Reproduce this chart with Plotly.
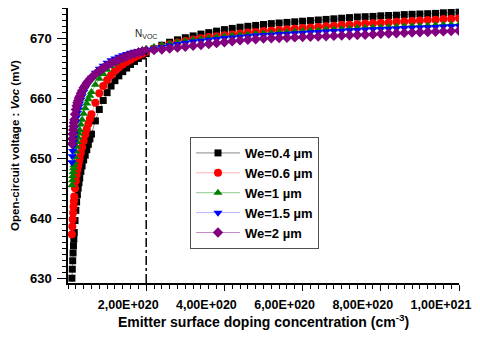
import plotly.graph_objects as go

# emitter surface doping, in units of 1E19 cm-3
doping_e19 = [1.0, 1.1, 1.2, 1.3, 1.4, 1.5, 1.6, 1.8, 2.0, 2.2, 2.4, 2.6, 2.8, 3.0, 3.3, 3.6,
              4.0, 4.4, 4.8, 5.2, 5.6, 6.0,
              7, 8, 9, 10, 11, 12, 13, 14, 15, 16, 17, 18, 19, 20,
              22, 24, 26, 28, 30, 32, 34, 36, 38, 40, 42, 44, 46, 48, 50, 52, 54, 56, 58, 60,
              62, 64, 66, 68, 70, 72, 74, 76, 78, 80, 82, 84, 86, 88, 90, 92, 94, 96, 98, 100]

voc_we_04 = [630.0, 631.5, 632.9, 634.2, 635.4, 636.5, 637.6, 639.6, 641.3, 642.7, 643.9, 645.0,
             645.9, 646.7, 647.8, 648.7, 649.7, 650.5, 651.4, 652.3, 653.2, 654.0,
             656.2, 658.1, 659.6, 660.9, 662.0, 662.9, 663.7, 664.4, 665.0, 665.6, 666.1, 666.6,
             667.0, 667.4,
             668.2, 668.8, 669.3, 669.7, 670.05, 670.35, 670.65, 670.9, 671.15, 671.4, 671.6,
             671.8, 671.95, 672.1, 672.25, 672.4, 672.5, 672.6, 672.7, 672.8, 672.9, 673.0,
             673.1, 673.2, 673.3, 673.4, 673.5, 673.55, 673.6, 673.7, 673.75, 673.8, 673.9,
             673.95, 674.0, 674.05, 674.1, 674.2, 674.25, 674.3]

voc_we_06 = [637.3, 638.6, 639.8, 640.9, 641.9, 642.8, 643.6, 645.0, 646.2, 647.2, 648.0, 648.7,
             649.4, 650.0, 650.9, 651.8, 652.9, 653.9, 654.8, 655.7, 656.5, 657.3,
             659.2, 660.8, 662.0, 663.0, 663.8, 664.5, 665.1, 665.6, 666.0, 666.4, 666.8, 667.1,
             667.4, 667.7,
             668.2, 668.6, 668.95, 669.25, 669.5, 669.75, 669.95, 670.15, 670.3, 670.45, 670.6,
             670.75, 670.9, 671.0, 671.15, 671.25, 671.35, 671.45, 671.55, 671.65, 671.75,
             671.85, 671.95, 672.05, 672.15, 672.2, 672.3, 672.4, 672.45, 672.55, 672.6, 672.7,
             672.75, 672.85, 672.9, 673.0, 673.05, 673.15, 673.2, 673.3]

voc_we_1 = [645.5, 646.3, 647.0, 647.7, 648.3, 648.8, 649.3, 650.2, 651.1, 651.9, 652.7, 653.4,
            654.1, 654.7, 655.6, 656.4, 657.4, 658.3, 659.1, 659.8, 660.4, 661.0,
            662.2, 663.2, 664.0, 664.7, 665.3, 665.8, 666.2, 666.6, 666.9, 667.2, 667.5, 667.8,
            668.0, 668.2,
            668.5, 668.8, 669.05, 669.3, 669.5, 669.7, 669.85, 670.0, 670.15, 670.3, 670.4,
            670.5, 670.6, 670.7, 670.8, 670.85, 670.95, 671.0, 671.1, 671.15, 671.25, 671.3,
            671.4, 671.45, 671.5, 671.6, 671.65, 671.7, 671.75, 671.8, 671.85, 671.9, 671.95,
            672.0, 672.05, 672.1, 672.15, 672.2, 672.25, 672.3]

voc_we_15 = [649.3, 650.3, 651.2, 652.0, 652.7, 653.4, 654.0, 655.1, 656.0, 656.8, 657.5, 658.1,
             658.6, 659.1, 659.7, 660.3, 661.0, 661.6, 662.1, 662.6, 663.0, 663.4,
             664.2, 664.9, 665.4, 665.9, 666.3, 666.6, 666.9, 667.15, 667.35, 667.55, 667.7,
             667.85, 667.95, 668.05,
             668.2, 668.5, 668.75, 669.0, 669.2, 669.4, 669.55, 669.7, 669.85, 670.0, 670.1,
             670.2, 670.3, 670.4, 670.5, 670.55, 670.65, 670.7, 670.8, 670.85, 670.95, 671.0,
             671.1, 671.15, 671.2, 671.3, 671.35, 671.4, 671.45, 671.5, 671.55, 671.6, 671.65,
             671.7, 671.75, 671.8, 671.85, 671.9, 671.95, 672.0]

voc_we_2 = [652.4, 653.2, 654.0, 654.7, 655.3, 655.9, 656.4, 657.3, 658.1, 658.7, 659.2, 659.6,
            660.0, 660.3, 660.8, 661.2, 661.7, 662.1, 662.5, 662.8, 663.1, 663.4,
            664.0, 664.5, 665.0, 665.4, 665.8, 666.1, 666.4, 666.7, 666.95, 667.2, 667.4,
            667.6, 667.75, 667.9,
            668.0, 668.1, 668.25, 668.4, 668.55, 668.7, 668.85, 669.0, 669.15, 669.3, 669.45,
            669.6, 669.7, 669.8, 669.9, 669.95, 670.0, 670.05, 670.1, 670.15, 670.2, 670.25,
            670.3, 670.35, 670.4, 670.45, 670.5, 670.55, 670.6, 670.7, 670.75, 670.8, 670.85,
            670.9, 670.95, 671.0, 671.05, 671.1, 671.15, 671.2]

x_tick_vals = [2e20, 4e20, 6e20, 8e20, 1e21]
x_tick_text = ['2,00E+020', '4,00E+020', '6,00E+020', '8,00E+020', '1,00E+021']

n_voc = 2e20
voc_at_n_voc = 667.5
y_range = [629.2, 675.0]

font_family = 'Arial, Liberation Sans, sans-serif'

x = [v * 1e19 for v in doping_e19]

series = [
    ('We=0.4 µm', voc_we_04, 'square', '#000000', '#8a8a8a', 7),
    ('We=0.6 µm', voc_we_06, 'circle', '#ff0000', '#ffb4b4', 8),
    ('We=1 µm', voc_we_1, 'triangle-up', '#008000', '#8cc88c', 8),
    ('We=1.5 µm', voc_we_15, 'triangle-down', '#0000ff', '#b4b4ff', 8),
    ('We=2 µm', voc_we_2, 'diamond', '#800080', '#c88cc8', 8),
]

fig = go.Figure()

for name, y, symbol, color, line_color, size in series:
    fig.add_trace(go.Scatter(
        x=x, y=y,
        name=name,
        mode='lines+markers',
        line=dict(color=line_color, width=1),
        marker=dict(symbol=symbol, color=color, size=size, line=dict(width=0))
    ))

fig.add_shape(
    type='line', xref='x', yref='y',
    x0=n_voc, x1=n_voc, y0=y_range[0], y1=voc_at_n_voc,
    line=dict(color='black', width=1.5, dash='dashdot')
)

fig.add_annotation(
    x=n_voc, y=670.6, xref='x', yref='y',
    text='N<sub>VOC</sub>', showarrow=False,
    font=dict(family=font_family, size=10, color='#222222')
)

# the page body has an 8px margin, so the figure is a bit smaller than the window
fig.update_layout(
    width=472, height=331,
    margin=dict(l=60, r=21, t=0, b=56, autoexpand=False),
    paper_bgcolor='white', plot_bgcolor='white',
    font=dict(family=font_family, color='black'),
    showlegend=True,
    legend=dict(
        x=0.312, y=0.531, xanchor='left', yanchor='top',
        bordercolor='#505050', borderwidth=1, bgcolor='white',
        itemwidth=44,
        font=dict(family=font_family, size=13, weight='bold')
    )
)

fig.update_xaxes(
    range=[0, 1e21], automargin=False,
    tickvals=x_tick_vals, ticktext=x_tick_text,
    ticks='outside', ticklen=6, tickwidth=1.2, tickcolor='black',
    ticklabelstandoff=3, ticklabelshift=-18, ticklabeloverflow='allow',
    minor=dict(dtick=2e19, tick0=0, ticks='outside', ticklen=4, tickcolor='black'),
    showline=True, linecolor='black', linewidth=1.5,
    showgrid=False, zeroline=False,
    tickfont=dict(family=font_family, size=12.5, weight='bold'),
    title=dict(text='Emitter surface doping concentration (cm<sup>-3</sup>)',
               font=dict(family=font_family, size=14, weight='bold'), standoff=0)
)

fig.update_yaxes(
    range=y_range, automargin=False,
    tick0=630, dtick=10,
    ticks='outside', ticklen=9, tickwidth=1.2, tickcolor='black',
    ticklabelstandoff=3,
    minor=dict(dtick=1, tick0=630, ticks='outside', ticklen=4, tickcolor='black'),
    showline=True, linecolor='black', linewidth=1.5,
    showgrid=False, zeroline=False,
    tickfont=dict(family=font_family, size=13, weight='bold'),
    title=dict(text='Open-circuit voltage : <i>Voc</i> (mV)',
               font=dict(family=font_family, size=11.5, weight='bold'), standoff=8)
)

fig.write_html('out.html')
